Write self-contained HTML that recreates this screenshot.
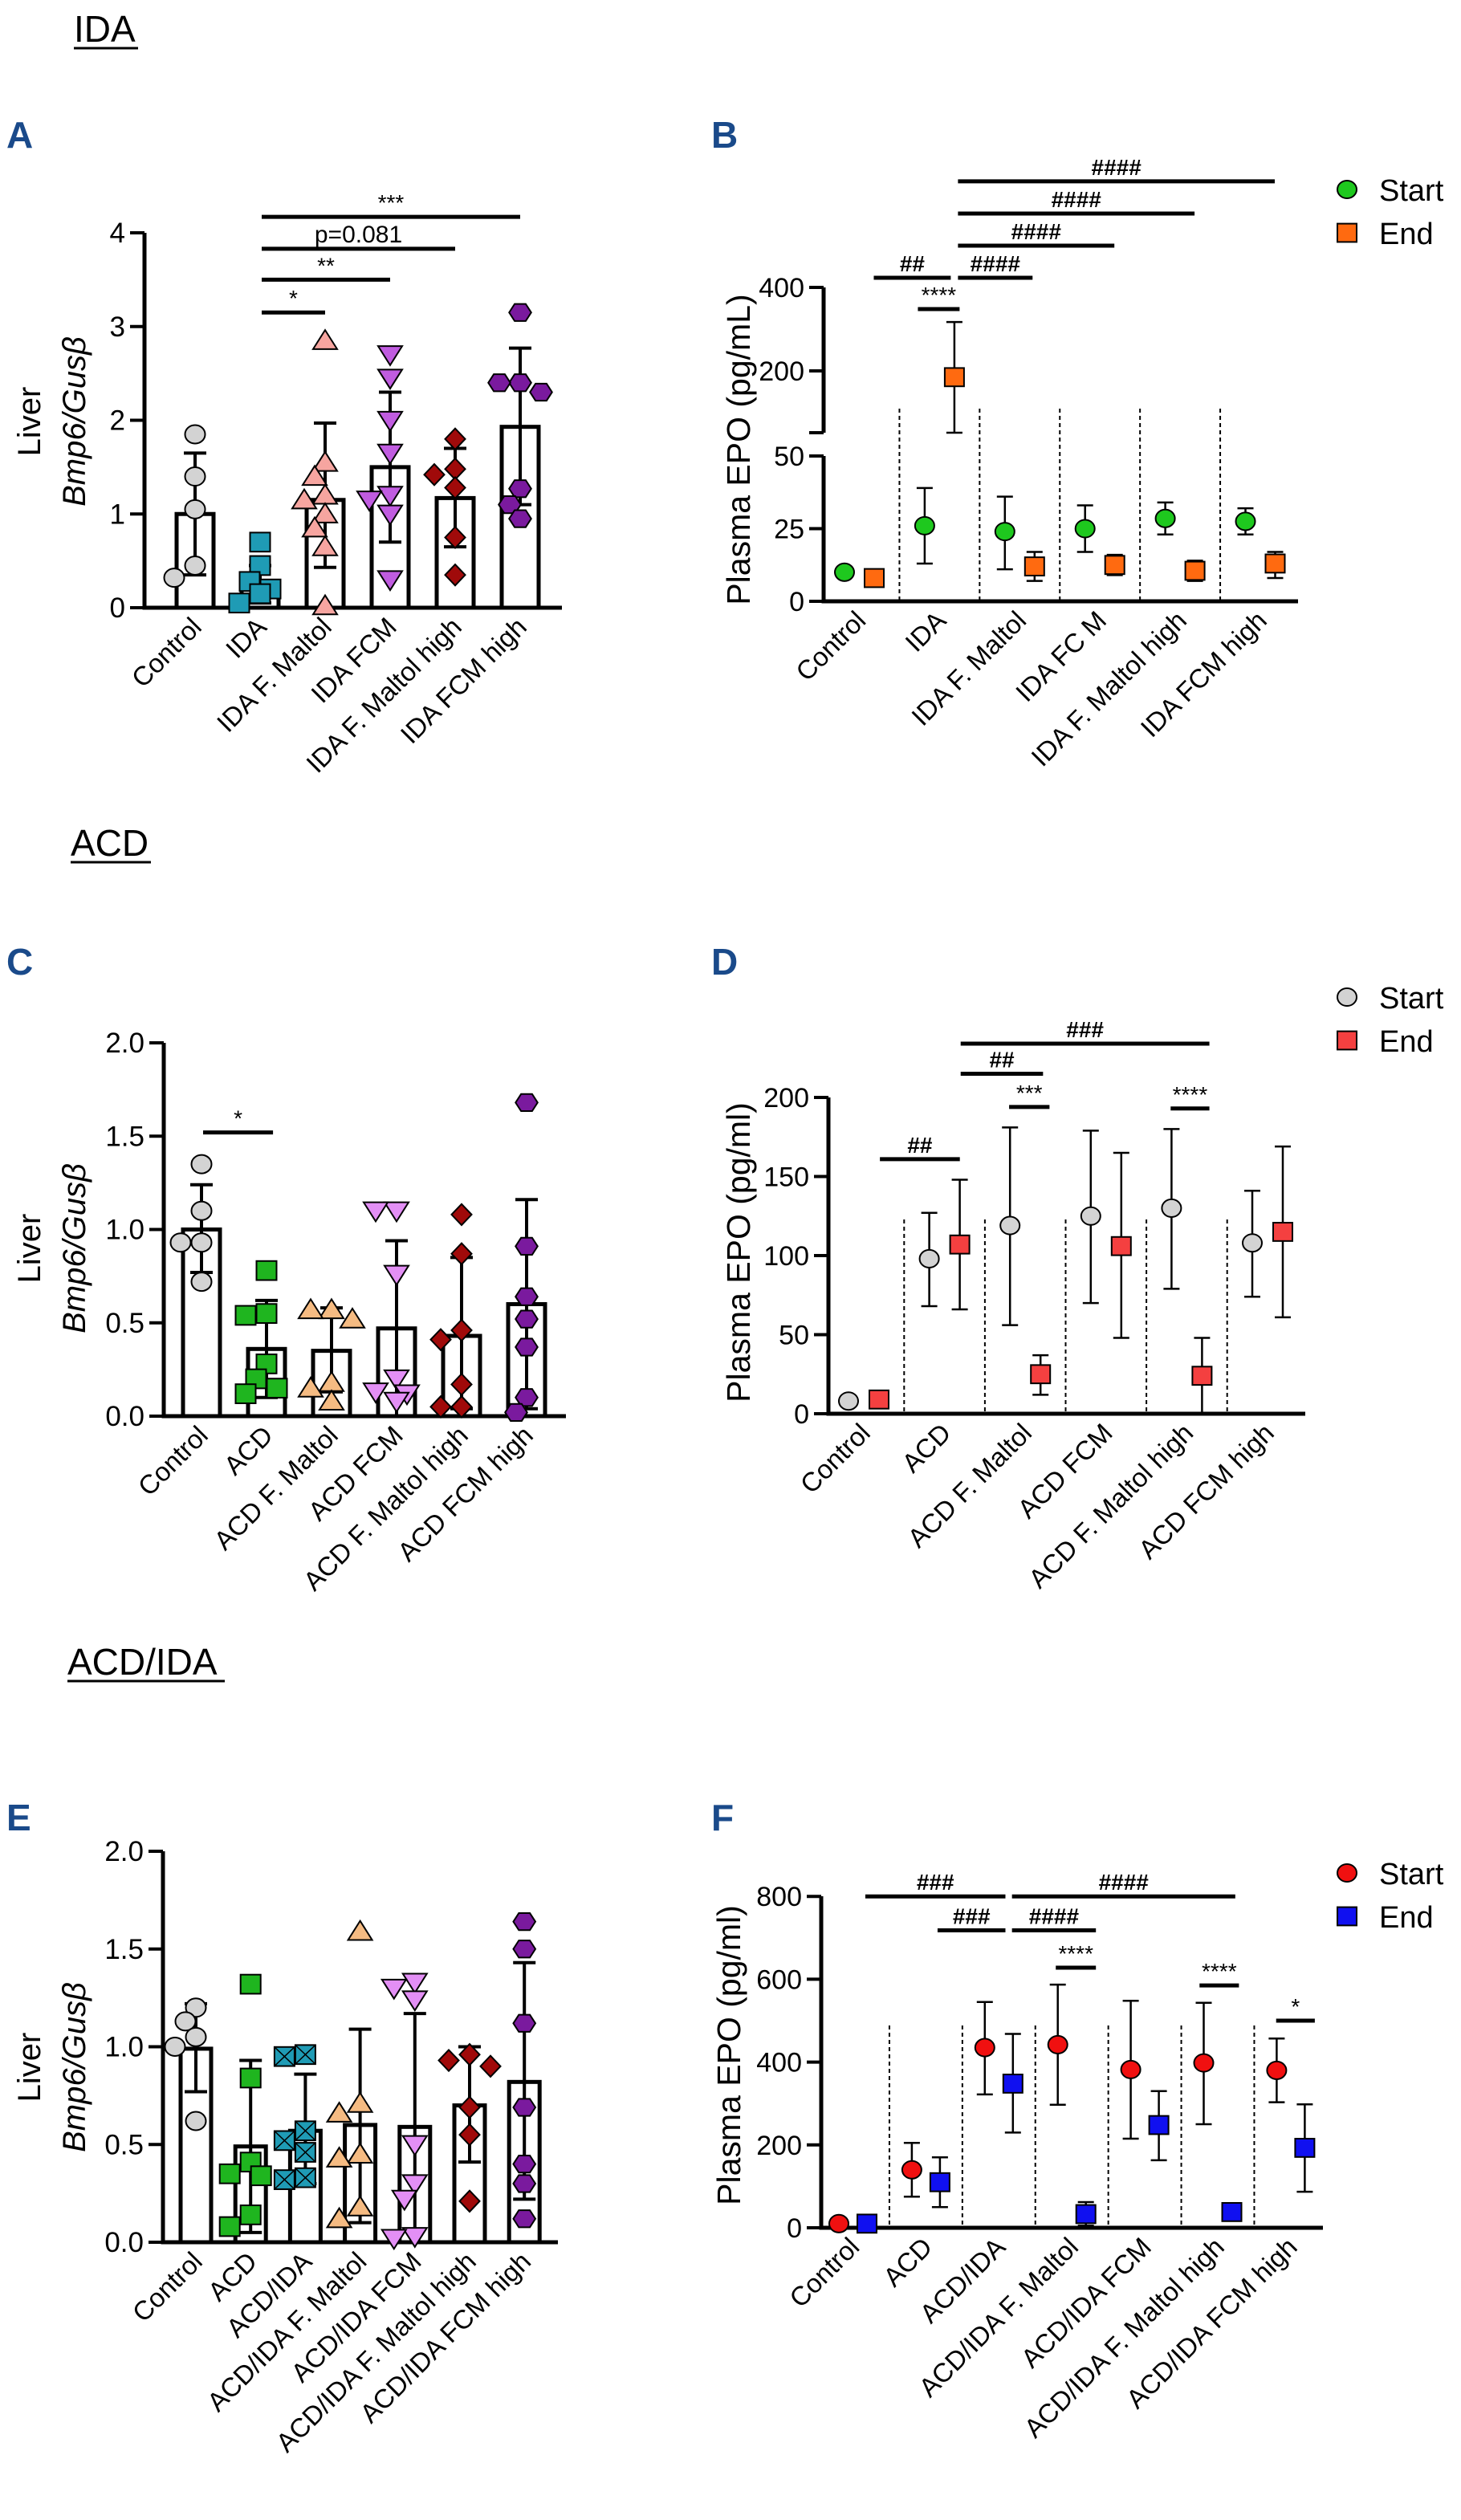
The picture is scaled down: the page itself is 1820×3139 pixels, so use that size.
<!DOCTYPE html>
<html><head><meta charset="utf-8"><style>
html,body{margin:0;padding:0;background:#fff}
svg{display:block;font-family:"Liberation Sans",Arial,sans-serif}
</style></head><body>
<svg id="fig" width="1820" height="3139" viewBox="0 0 1820 3139" xmlns="http://www.w3.org/2000/svg">
<rect width="1820" height="3139" fill="#fff"/>
<g><text x="92" y="52" font-size="46">IDA</text><line x1="92" y1="60" x2="172" y2="60" stroke="#000" stroke-width="3"/></g>
<g><text x="88" y="1066" font-size="46">ACD</text><line x1="88" y1="1074" x2="188" y2="1074" stroke="#000" stroke-width="3"/></g>
<g><text x="84" y="2086" font-size="46">ACD/IDA</text><line x1="84" y1="2094" x2="280" y2="2094" stroke="#000" stroke-width="3"/></g>
<text x="8" y="184" font-size="46" font-weight="bold" fill="#1a4a8a">A</text>
<text x="886" y="184" font-size="46" font-weight="bold" fill="#1a4a8a">B</text>
<text x="8" y="1214" font-size="46" font-weight="bold" fill="#1a4a8a">C</text>
<text x="886" y="1214" font-size="46" font-weight="bold" fill="#1a4a8a">D</text>
<text x="8" y="2280" font-size="46" font-weight="bold" fill="#1a4a8a">E</text>
<text x="886" y="2280" font-size="46" font-weight="bold" fill="#1a4a8a">F</text>
</svg>
<script>
// ---------- Panel A data ----------
const catsA = ["Control","IDA","IDA F. Maltol","IDA FCM","IDA F. Maltol high","IDA FCM high"];
const meanA = [1.0,0.2,1.15,1.5,1.17,1.93];
const loA = [0.35,0.05,0.43,0.7,0.65,1.1];
const hiA = [1.65,0.45,1.97,2.3,1.7,2.77];
const ptsA = [[1.85,1.4,1.05,0.45,0.32],[0.7,0.45,0.28,0.2,0.15,0.05],[2.85,1.55,1.4,1.2,1.15,1.0,0.85,0.65,0.02],[2.7,2.45,2.0,1.65,1.2,1.15,1.0,0.3],[1.8,1.48,1.42,1.28,0.75,0.35],[3.15,2.4,2.4,2.3,1.27,1.1,0.95]];
const ticksA = [0,1,2,3,4];
const tickLabelsA = ["0","1","2","3","4"];
const sigFromA = [1,1,1,1], sigToA = [2,3,4,5], sigValA = [3.15,3.5,3.83,4.17], sigLabA = ["*","**","p=0.081","***"];
// ---------- Panel C data ----------
const catsC = ["Control","ACD","ACD F. Maltol","ACD FCM","ACD F. Maltol high","ACD FCM high"];
const meanC = [1.0,0.36,0.35,0.47,0.43,0.6];
const loC = [0.77,0.1,0.13,0.0,0.04,0.04];
const hiC = [1.24,0.62,0.58,0.94,0.85,1.16];
const ptsC = [[1.35,1.1,0.93,0.93,0.72],[0.78,0.55,0.54,0.28,0.2,0.15,0.12],[0.57,0.57,0.52,0.18,0.15,0.08],[1.1,1.1,0.76,0.2,0.13,0.12,0.08],[1.08,0.87,0.46,0.41,0.17,0.05,0.05],[1.68,0.91,0.64,0.52,0.37,0.1,0.02]];
const ticksC = [0,0.5,1,1.5,2];
const tickLabelsC = ["0.0","0.5","1.0","1.5","2.0"];
const sigFromC = [0], sigToC = [1.1], sigValC = [1.52], sigLabC = ["*"];
// ---------- Panel E data ----------
const catsE = ["Control","ACD","ACD/IDA","ACD/IDA F. Maltol","ACD/IDA FCM","ACD/IDA F. Maltol high","ACD/IDA FCM high"];
const meanE = [0.99,0.49,0.57,0.6,0.59,0.7,0.82];
const loE = [0.77,0.05,0.3,0.1,0.0,0.41,0.22];
const hiE = [1.22,0.93,0.86,1.09,1.17,1.0,1.43];
const ptsE = [[1.2,1.13,1.05,1.0,0.62],[1.32,0.84,0.41,0.35,0.34,0.14,0.08],[0.96,0.95,0.57,0.52,0.46,0.33,0.32],[1.59,0.71,0.66,0.45,0.43,0.18,0.12],[1.33,1.3,1.24,0.5,0.3,0.22,0.03,0.02],[0.96,0.93,0.9,0.69,0.55,0.21],[1.64,1.5,1.12,0.69,0.4,0.3,0.12]];
const ticksE = [0,0.5,1,1.5,2];
const tickLabelsE = ["0.0","0.5","1.0","1.5","2.0"];
// ---------- Panel B data ----------
const catsB = ["Control","IDA","IDA F. Maltol","IDA FC M","IDA F. Maltol high","IDA FCM high"];
const startB = [10,26,24,25,28.5,27.5];
const startLoB = [10,13,11,17,23,23];
const startHiB = [10,39,36,33,34,32];
const endB = [8,185,12,12.5,10.5,13];
const endLoB = [8,52,7,9,7,8];
const endHiB = [8,317,17,16,14,17];
const ticksB = [0,25,50,200,400];
const tickLabelsB = ["0","25","50","200","400"];
const sigFromB = [0.18,0.73,1.23,1.23,1.23,1.23], sigToB = [1.14,1.25,2.16,3.18,4.18,5.18], sigValB = [423,348,423,500,577,654], sigLabB = ["##","****","####","####","####","####"];
// ---------- Panel D data ----------
const catsD = ["Control","ACD","ACD F. Maltol","ACD FCM","ACD F. Maltol high","ACD FCM high"];
const startD = [8,98,119,125,130,108];
const startLoD = [8,68,56,70,79,74];
const startHiD = [8,127,181,179,180,141];
const endD = [9,107,25,106,24,115];
const endLoD = [9,66,12,48,0,61];
const endHiD = [9,148,37,165,48,169];
const ticksD = [0,50,100,150,200];
const tickLabelsD = ["0","50","100","150","200"];
const sigFromD = [0.2,1.2,1.2,1.8,3.8], sigToD = [1.19,2.22,4.28,2.3,4.28], sigValD = [161,215,234,194,193], sigLabD = ["##","##","###","***","****"];
// ---------- Panel F data ----------
const catsF = ["Control","ACD","ACD/IDA","ACD/IDA F. Maltol","ACD/IDA FCM","ACD/IDA F. Maltol high","ACD/IDA FCM high"];
const startF = [10,140,435,442,382,398,380];
const startLoF = [10,75,322,297,215,250,303];
const startHiF = [10,205,545,587,548,543,457];
const endF = [10,110,348,33,248,38,193];
const endLoF = [10,50,230,5,163,25,87];
const endHiF = [10,170,468,62,330,50,298];
const ticksF = [0,200,400,600,800];
const tickLabelsF = ["0","200","400","600","800"];
const sigFromF = [0.17,1.16,2.18,2.18,2.78,4.75,5.8], sigToF = [2.09,2.09,5.24,3.33,3.33,5.29,6.33], sigValF = [800,718,800,718,628,585,500], sigLabF = ["###","###","####","####","****","****","*"];

const NS = "http://www.w3.org/2000/svg";
const svg = document.getElementById('fig');
function mk(tag, attrs, parent){ const e=document.createElementNS(NS,tag); for(const k in attrs) e.setAttribute(k,attrs[k]); (parent||svg).appendChild(e); return e; }
function txt(parent, x, y, s, size, anchor, extra){ const t=mk('text',Object.assign({x:x,y:y,'font-size':size,'text-anchor':anchor||'start'},extra||{}),parent); t.textContent=s; return t; }

function marker(parent, shape, x, y, fill, r){
  r = r||12.5; let e;
  const st = {fill:fill, stroke:'#000', 'stroke-width':2};
  if(shape==='circle') e = mk('ellipse', Object.assign({cx:x,cy:y,rx:r,ry:r*0.92},st), parent);
  else if(shape==='square'||shape==='xsquare'){ e = mk('rect', Object.assign({x:x-r,y:y-r*0.95,width:2*r,height:1.9*r},st), parent);
    if(shape==='xsquare'){ mk('path',{d:`M${x-r} ${y-r*0.95}L${x+r} ${y+r*0.95}M${x+r} ${y-r*0.95}L${x-r} ${y+r*0.95}`,stroke:'#000','stroke-width':1.5,fill:'none'},parent);} }
  else if(shape==='triup') e = mk('polygon', Object.assign({points:`${x},${y-r*1.05} ${x+r*1.2},${y+r*0.85} ${x-r*1.2},${y+r*0.85}`},st), parent);
  else if(shape==='tridown') e = mk('polygon', Object.assign({points:`${x},${y+r*1.05} ${x+r*1.2},${y-r*0.85} ${x-r*1.2},${y-r*0.85}`},st), parent);
  else if(shape==='diamond') e = mk('polygon', Object.assign({points:`${x},${y-r*1.05} ${x+r},${y} ${x},${y+r*1.05} ${x-r},${y}`},st), parent);
  else if(shape==='hex') e = mk('polygon', Object.assign({points:`${x-r*1.1},${y} ${x-r*0.55},${y-r*0.85} ${x+r*0.55},${y-r*0.85} ${x+r*1.1},${y} ${x+r*0.55},${y+r*0.85} ${x-r*0.55},${y+r*0.85}`},st), parent);
  return e;
}

function sigBar(parent, x1, x2, y, label){
  const g = mk('g',{},parent);
  
  
  mk('line',{x1:x1,y1:y,x2:x2,y2:y,stroke:'#000','stroke-width':5},g);
  const t = txt(g,(x1+x2)/2,y-8,label,label.startsWith('p')?30:28,'middle');
  if(label.startsWith('#')) t.setAttribute('font-weight','bold');
}

function xLabels(parent, cats, xf, y0, size){
  cats.forEach((c,i)=>{
    const x = xf(i)+10, y = y0+26;
    const t = txt(parent, x, y, c, size, 'end', {transform:`rotate(-45 ${x} ${y})`});
    
    
  });
}

function yTitle(parent, x, y, lines, size){
  lines.forEach((l,i)=>{
    const t = txt(parent, x+i*size*1.4, y, l.text, size, 'middle', {transform:`rotate(-90 ${x+i*size*1.4} ${y})`});
    if(l.italic) t.setAttribute('font-style','italic');
    
    
  });
}

function barPanel(cfg){
  const g = mk('g',{});  
  const ys = v => cfg.y0 - v/cfg.vmax*(cfg.y0-cfg.ytop);
  const xs = i => cfg.x0 + i*cfg.step;
  const ax = mk('g',{},g);  
  mk('line',{x1:cfg.axisX,y1:cfg.y0+2.5,x2:cfg.axisX,y2:cfg.ytop,stroke:'#000','stroke-width':5},ax);
  cfg.ticks.forEach((t,i)=>{ mk('line',{x1:cfg.axisX-18,y1:ys(t),x2:cfg.axisX,y2:ys(t),stroke:'#000','stroke-width':4},ax); txt(ax,cfg.axisX-24,ys(t)+12,cfg.tickLabels[i],35,'end'); });
  const xa = mk('line',{x1:cfg.axisX,y1:cfg.y0,x2:cfg.xEnd,y2:cfg.y0,stroke:'#000','stroke-width':5},g);
   
  cfg.means.forEach((m,i)=>{
    const bg = mk('g',{},g);
    
    
    const x = xs(i), hw = cfg.bw/2;
    mk('rect',{x:x-hw,y:ys(m),width:cfg.bw,height:cfg.y0-ys(m),fill:'#fff',stroke:'#000','stroke-width':5},bg);
    mk('line',{x1:x,y1:ys(cfg.lo[i]),x2:x,y2:ys(cfg.hi[i]),stroke:'#000','stroke-width':4},bg);
    mk('line',{x1:x-14,y1:ys(cfg.hi[i]),x2:x+14,y2:ys(cfg.hi[i]),stroke:'#000','stroke-width':4},bg);
    mk('line',{x1:x-14,y1:ys(cfg.lo[i]),x2:x+14,y2:ys(cfg.lo[i]),stroke:'#000','stroke-width':4},bg);
    const placed = [];
    cfg.pts[i].forEach(v=>{
      const py = ys(v); let px = x;
      for(const o of [0,-13,13,-26,26,-20,20]){ if(placed.every(p=>Math.hypot(p[0]-(x+o),p[1]-py)>=21)){ px=x+o; break; } }
      placed.push([px,py]);
      const mEl = marker(bg, cfg.shapes[i], px, py, cfg.colors[i]);
      
      
    });
  });
  if(cfg.sigFrom) cfg.sigFrom.forEach((f,k)=>sigBar(g, xs(f)+2, xs(cfg.sigTo[k]), ys(cfg.sigVal[k]), cfg.sigLab[k]));
  xLabels(g, cfg.cats, xs, cfg.y0, 33);
  yTitle(g, cfg.titleX, cfg.titleY, [{text:'Liver'},{text:'Bmp6/Gus\u03b2',italic:true}], 40);
}

function epoPanel(cfg){
  const g = mk('g',{});  
  const ys = cfg.ys;
  const xm = c => cfg.x0 + c*cfg.step;
  const ax = mk('g',{},g);  
  cfg.segments.forEach(s=> mk('line',{x1:cfg.axisX,y1:s[0],x2:cfg.axisX,y2:s[1],stroke:'#000','stroke-width':5},ax));
  cfg.ticks.forEach((t,i)=>{ mk('line',{x1:cfg.axisX-18,y1:ys(t),x2:cfg.axisX,y2:ys(t),stroke:'#000','stroke-width':4},ax); txt(ax,cfg.axisX-24,ys(t)+12,cfg.tickLabels[i],34,'end'); });
  (cfg.extraTicks||[]).forEach(y=> mk('line',{x1:cfg.axisX-18,y1:y,x2:cfg.axisX,y2:y,stroke:'#000','stroke-width':4},ax));
  const xa = mk('line',{x1:cfg.axisX-2,y1:cfg.y0,x2:cfg.xEnd,y2:cfg.y0,stroke:'#000','stroke-width':5},g);
   
  for(let i=0;i<cfg.cats.length-1;i++){
    const d = mk('line',{x1:xm(i+0.5),y1:cfg.divTop,x2:xm(i+0.5),y2:cfg.y0,stroke:'#000','stroke-width':2,'stroke-dasharray':'5,4'},g);
     
  }
  const series = [
    {v:cfg.start, lo:cfg.startLo, hi:cfg.startHi, off:-cfg.off, shape:'circle', color:cfg.c1, name:'start'},
    {v:cfg.end, lo:cfg.endLo, hi:cfg.endHi, off:cfg.off, shape:'square', color:cfg.c2, name:'end'}];
  series.forEach(s=>{
    s.v.forEach((v,i)=>{
      const pg = mk('g',{},g);
      
      
      const x = xm(i)+s.off;
      mk('line',{x1:x,y1:ys(s.lo[i]),x2:x,y2:ys(s.hi[i]),stroke:'#000','stroke-width':2.5},pg);
      mk('line',{x1:x-10,y1:ys(s.hi[i]),x2:x+10,y2:ys(s.hi[i]),stroke:'#000','stroke-width':2.5},pg);
      mk('line',{x1:x-10,y1:ys(s.lo[i]),x2:x+10,y2:ys(s.lo[i]),stroke:'#000','stroke-width':2.5},pg);
      marker(pg, s.shape, x, ys(v), s.color, 12);
    });
  });
  cfg.sigFrom.forEach((f,k)=>sigBar(g, xm(f), xm(cfg.sigTo[k]), ys(cfg.sigVal[k]), cfg.sigLab[k]));
  xLabels(g, cfg.cats, xm, cfg.y0, 33);
  const t = txt(g, cfg.titleX, cfg.titleY, cfg.title, 41, 'middle', {transform:`rotate(-90 ${cfg.titleX} ${cfg.titleY})`});
   
  const lg = mk('g',{},g);  
  const l1 = mk('g',{},lg);  
  marker(l1,'circle',1678,cfg.legY,cfg.c1,12); txt(l1,1718,cfg.legY+14,'Start',38);
  const l2 = mk('g',{},lg);  
  marker(l2,'square',1678,cfg.legY+54,cfg.c2,12); txt(l2,1718,cfg.legY+68,'End',38);
}

barPanel({name:'chart-a-liver-bmp6-ida',cats:catsA,means:meanA,lo:loA,hi:hiA,pts:ptsA,ticks:ticksA,tickLabels:tickLabelsA,
  vmax:4,y0:757,ytop:290,axisX:180,xEnd:700,x0:243,step:81,bw:46,
  shapes:['circle','square','triup','tridown','diamond','hex'],
  colors:['#d3d3d3','#1f9bb5','#f6a5a0','#c05ce0','#a00a0a','#7a1a9e'],
  sigFrom:sigFromA,sigTo:sigToA,sigVal:sigValA,sigLab:sigLabA,titleX:50,titleY:525});
barPanel({name:'chart-c-liver-bmp6-acd',cats:catsC,means:meanC,lo:loC,hi:hiC,pts:ptsC,ticks:ticksC,tickLabels:tickLabelsC,
  vmax:2,y0:1764,ytop:1299,axisX:204,xEnd:705,x0:251,step:81,bw:46,
  shapes:['circle','square','triup','tridown','diamond','hex'],
  colors:['#d3d3d3','#1fb51f','#f5bb82','#e38ff5','#a00a0a','#7a1a9e'],
  sigFrom:sigFromC,sigTo:sigToC,sigVal:sigValC,sigLab:sigLabC,titleX:50,titleY:1555});
barPanel({name:'chart-e-liver-bmp6-acd-ida',cats:catsE,means:meanE,lo:loE,hi:hiE,pts:ptsE,ticks:ticksE,tickLabels:tickLabelsE,
  vmax:2,y0:2793,ytop:2306,axisX:203,xEnd:695,x0:244,step:68.2,bw:38,
  shapes:['circle','square','xsquare','triup','tridown','diamond','hex'],
  colors:['#d3d3d3','#1fb51f','#1f9bb5','#f5bb82','#e38ff5','#a00a0a','#7a1a9e'],
  titleX:50,titleY:2575});

epoPanel({name:'chart-b-plasma-epo-ida',cats:catsB,start:startB,startLo:startLoB,startHi:startHiB,end:endB,endLo:endLoB,endHi:endHiB,
  ticks:ticksB,tickLabels:tickLabelsB,
  ys: v => v<=50 ? 749 - v*3.62 : 462 - (v-200)*0.52,
  segments:[[751.5,568],[539,358]], extraTicks:[539],
  y0:749,axisX:1026,xEnd:1617,x0:1070.5,step:99.9,off:18.5,divTop:509,
  c1:'#1ec81e',c2:'#ff6a10',sigFrom:sigFromB,sigTo:sigToB,sigVal:sigValB,sigLab:sigLabB,
  title:'Plasma EPO (pg/mL)',titleX:934,titleY:560,legY:236});
epoPanel({name:'chart-d-plasma-epo-acd',cats:catsD,start:startD,startLo:startLoD,startHi:startHiD,end:endD,endLo:endLoD,endHi:endHiD,
  ticks:ticksD,tickLabels:tickLabelsD,
  ys: v => 1761 - v*1.97,
  segments:[[1763.5,1367]],
  y0:1761,axisX:1032,xEnd:1626,x0:1076,step:100.6,off:19,divTop:1519,
  c1:'#d3d3d3',c2:'#f44040',sigFrom:sigFromD,sigTo:sigToD,sigVal:sigValD,sigLab:sigLabD,
  title:'Plasma EPO (pg/ml)',titleX:934,titleY:1560,legY:1242});
epoPanel({name:'chart-f-plasma-epo-acd-ida',cats:catsF,start:startF,startLo:startLoF,startHi:startHiF,end:endF,endLo:endLoF,endHi:endHiF,
  ticks:ticksF,tickLabels:tickLabelsF,
  ys: v => 2775 - v*0.516,
  segments:[[2777.5,2362]],
  y0:2775,axisX:1023,xEnd:1648,x0:1062.5,step:90.9,off:17.5,divTop:2523,
  c1:'#f01010',c2:'#1010f0',sigFrom:sigFromF,sigTo:sigToF,sigVal:sigValF,sigLab:sigLabF,
  title:'Plasma EPO (pg/ml)',titleX:922,titleY:2560,legY:2333});
</script>
</body></html>
